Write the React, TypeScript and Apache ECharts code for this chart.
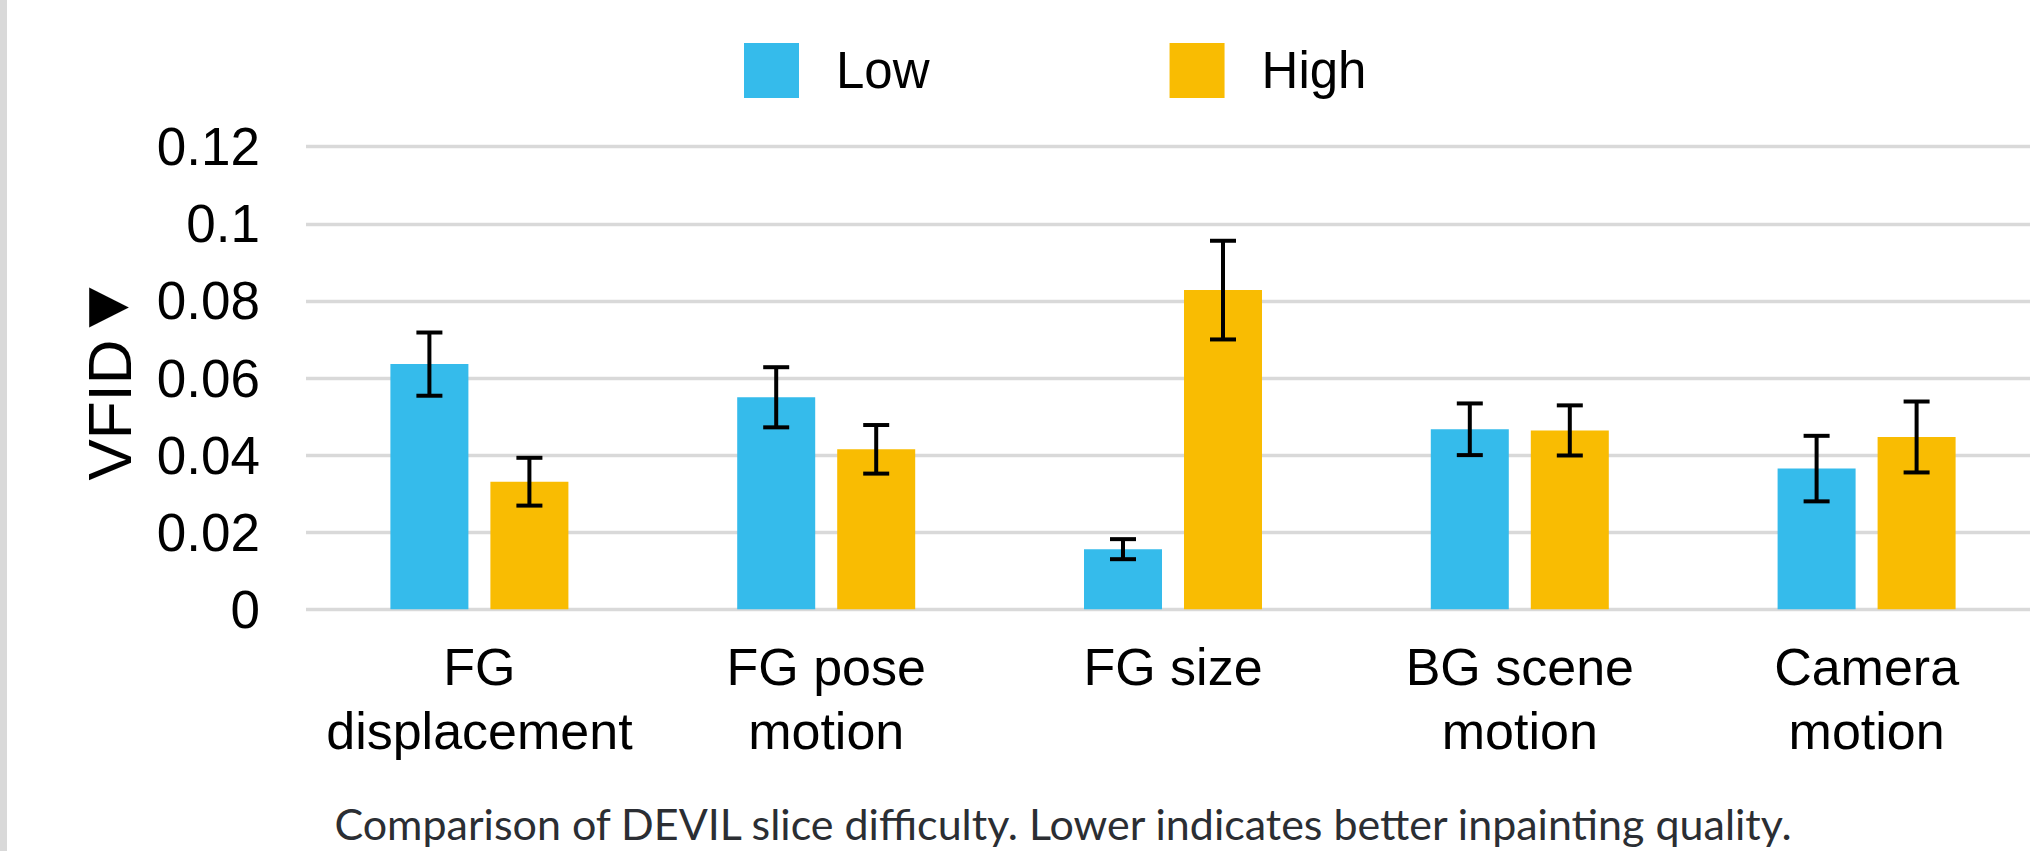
import React, { useEffect, useRef } from "react";
import * as echarts from "echarts";

const categories = [
  "FG\ndisplacement",
  "FG pose\nmotion",
  "FG size",
  "BG scene\nmotion",
  "Camera\nmotion",
];
const seriesNames = ["Low", "High"];
const lowValues = [0.0636, 0.055, 0.0156, 0.0467, 0.0365];
const highValues = [0.0331, 0.0415, 0.0828, 0.0464, 0.0447];
const lowErrors = [0.0082, 0.0078, 0.0026, 0.0067, 0.0085];
const highErrors = [0.0062, 0.0063, 0.0128, 0.0065, 0.0092];
const yTicks = [0, 0.02, 0.04, 0.06, 0.08, 0.1, 0.12];
const captionText =
  "Comparison of DEVIL slice difficulty. Lower indicates better inpainting quality.";

const LOW_COLOR = "#35bbeb";
const HIGH_COLOR = "#f9bc02";
const BAR_W = 78;
const BAR_GAP = 22;
const FONT = "'Liberation Sans', Arial, sans-serif";

export default function App() {
  const ref = useRef<HTMLDivElement>(null);

  useEffect(() => {
    if (!ref.current) return;
    const chart = echarts.init(ref.current, undefined, { renderer: "svg" });

    const makeErr = (values: number[], errs: number[], sign: number) => ({
      type: "custom",
      coordinateSystem: "cartesian2d",
      z: 10,
      silent: true,
      data: values.map((v, i) => [i, v, errs[i]]),
      renderItem: (_params: any, api: any) => {
        const idx = api.value(0);
        const v = api.value(1);
        const e = api.value(2);
        const off = (sign * (BAR_W + BAR_GAP)) / 2;
        const top = api.coord([idx, v + e]);
        const bot = api.coord([idx, v - e]);
        const x = top[0] + off;
        const cap = 13;
        const style = { stroke: "#000", lineWidth: 4 };
        return {
          type: "group",
          children: [
            { type: "line", shape: { x1: x, y1: top[1], x2: x, y2: bot[1] }, style },
            { type: "line", shape: { x1: x - cap, y1: top[1], x2: x + cap, y2: top[1] }, style },
            { type: "line", shape: { x1: x - cap, y1: bot[1], x2: x + cap, y2: bot[1] }, style },
          ],
        };
      },
    });

    chart.setOption({
      animation: false,
      backgroundColor: "#fff",
      legend: {
        data: seriesNames,
        left: 744,
        top: 43,
        padding: 0,
        icon: "rect",
        itemWidth: 55,
        itemHeight: 55,
        itemGap: 240,
        textStyle: {
          fontFamily: FONT,
          fontSize: 51,
          color: "#000",
          padding: [0, 0, 0, 32],
        },
      },
      grid: { left: 306, top: 146.7, width: 1734, height: 462.6, containLabel: false },
      xAxis: {
        type: "category",
        data: categories,
        axisLine: { show: false },
        axisTick: { show: false },
        axisLabel: {
          fontFamily: FONT,
          fontSize: 52,
          lineHeight: 64,
          color: "#000",
          margin: 25.5,
          interval: 0,
        },
      },
      yAxis: {
        type: "value",
        min: yTicks[0],
        max: yTicks[yTicks.length - 1],
        interval: yTicks[1] - yTicks[0],
        axisLine: { show: false },
        axisTick: { show: false },
        axisLabel: {
          fontFamily: FONT,
          fontSize: 53,
          color: "#000",
          margin: 46,
        },
        splitLine: { lineStyle: { color: "#d9d9d9", width: 3.3 } },
      },
      series: [
        {
          name: seriesNames[0],
          type: "bar",
          data: lowValues,
          barWidth: BAR_W,
          barGap: `${(BAR_GAP / BAR_W) * 100}%`,
          itemStyle: { color: LOW_COLOR },
        },
        {
          name: seriesNames[1],
          type: "bar",
          data: highValues,
          barWidth: BAR_W,
          barGap: `${(BAR_GAP / BAR_W) * 100}%`,
          itemStyle: { color: HIGH_COLOR },
        },
        makeErr(lowValues, lowErrors, -1),
        makeErr(highValues, highErrors, 1),
      ],
      graphic: [
        { type: "rect", left: 0, top: 0, shape: { x: 0, y: 0, width: 7, height: 851 }, style: { fill: "#d9d9d9" } },
        {
          type: "text",
          x: 109,
          y: 410,
          rotation: Math.PI / 2,
          style: {
            text: "VFID",
            fontFamily: FONT,
            fontSize: 62,
            fill: "#000",
            align: "center",
            verticalAlign: "middle",
          },
        },
        {
          type: "text",
          x: 109,
          y: 303,
          style: {
            text: "▶",
            fontFamily: "'DejaVu Sans', sans-serif",
            fontSize: 52,
            fill: "#000",
            align: "center",
            verticalAlign: "middle",
          },
        },
        {
          type: "text",
          x: 1063,
          y: 823,
          style: {
            text: captionText,
            fontFamily: "Lato, sans-serif",
            fontSize: 43,
            fill: "#2b2e33",
            align: "center",
            verticalAlign: "middle",
          },
        },
      ],
    });

    return () => chart.dispose();
  }, []);

  return (
    <div
      style={{
        position: "absolute",
        left: 0,
        top: 0,
        width: 2030,
        height: 851,
        overflow: "hidden",
        background: "#fff",
      }}
    >
      <div ref={ref} style={{ width: 2060, height: 851 }} />
    </div>
  );
}
